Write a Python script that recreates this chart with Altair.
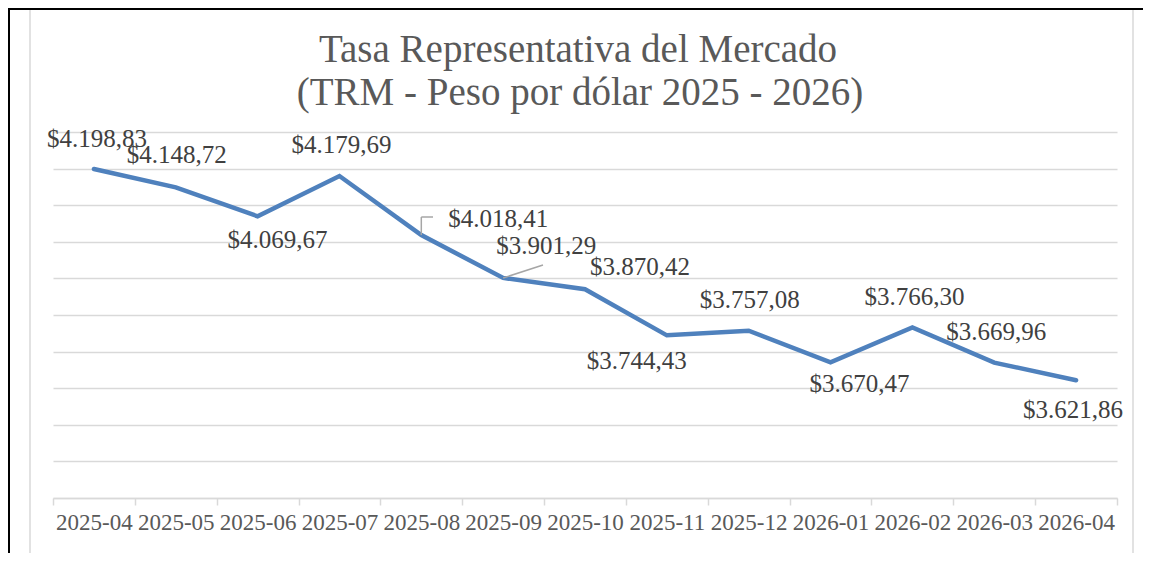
import altair as alt
import pandas as pd

months = ["2025-04", "2025-05", "2025-06", "2025-07", "2025-08", "2025-09", "2025-10",
          "2025-11", "2025-12", "2026-01", "2026-02", "2026-03", "2026-04"]
values = [4198.83, 4148.72, 4069.67, 4179.69, 4018.41, 3901.29, 3870.42,
          3744.43, 3757.08, 3670.47, 3766.30, 3669.96, 3621.86]

# label placement offsets (pixels, relative to each point)
label_dx = [3, 1, 20, 2, 77, 43, 55, -30, 1, 29, 2, 2, -3]
label_dy = [-30, -32, 24, -31, -16, -32, -22, 26, -31, 22, -30, -31, 30]

title_lines = ["Tasa Representativa del Mercado", "(TRM - Peso por dólar 2025 - 2026)"]


def fmt(v):
    s = f"{v:,.2f}"
    s = s.replace(",", "X").replace(".", ",").replace("X", ".")
    return "$" + s


df = pd.DataFrame({"month": months, "value": values, "label": [fmt(v) for v in values]})

FONT = "Liberation Serif"
W, H = 1064, 366

x_enc = alt.X("month:N", sort=months,
              scale=alt.Scale(paddingInner=0, paddingOuter=0),
              axis=alt.Axis(title=None, labelAngle=0, labelFont=FONT, labelFontSize=23,
                            labelColor="#595959", domainColor="#d9d9d9", domainWidth=1.5,
                            tickColor="#d9d9d9", tickWidth=1.5, tickSize=7, tickBand="extent",
                            labelPadding=6, grid=False))
y_enc = alt.Y("value:Q",
              scale=alt.Scale(domain=[3300, 4300], nice=False, zero=False),
              axis=alt.Axis(title=None, values=list(range(3300, 4301, 100)), labels=False,
                            ticks=False, domain=False, grid=True, gridColor="#d9d9d9",
                            gridWidth=1.5))

base = alt.Chart(df)

line = base.mark_line(color="#4F81BD", strokeWidth=4.5, strokeCap="round").encode(x=x_enc, y=y_enc)

label_layers = []
for m, dx, dy in zip(months, label_dx, label_dy):
    label_layers.append(
        base.transform_filter(alt.datum.month == m)
        .mark_text(font=FONT, fontSize=25, color="#404040", align="center",
                   baseline="middle", dx=dx, dy=dy)
        .encode(x=x_enc, y=y_enc, text="label:N")
    )

# leader lines for two labels
lead1a = base.transform_filter(alt.datum.month == "2025-08").mark_rule(
    color="#a6a6a6", strokeWidth=1.5).encode(x=x_enc, y=y_enc, y2=alt.value(85))
lead1b = base.transform_filter(alt.datum.month == "2025-08").mark_rule(
    color="#a6a6a6", strokeWidth=1.5).encode(x=x_enc, x2=alt.value(380), y=alt.value(85))
lead2 = base.transform_filter(alt.datum.month == "2025-09").mark_rule(
    color="#a6a6a6", strokeWidth=1.5).encode(x=x_enc, y=y_enc, x2=alt.value(490), y2=alt.value(133))

one = alt.Chart(pd.DataFrame({"t1": [title_lines[0]], "t2": [title_lines[1]]}))
title1 = one.mark_text(font=FONT, fontSize=39, color="#595959", align="center",
                       baseline="alphabetic").encode(x=alt.value(525), y=alt.value(-70), text="t1:N")
title2 = one.mark_text(font=FONT, fontSize=39, color="#595959", align="center",
                       baseline="alphabetic").encode(x=alt.value(527), y=alt.value(-27), text="t2:N")

# chart-area frame
frame_l = one.mark_rule(color="#d9d9d9", strokeWidth=1.5).encode(
    x=alt.value(-23), y=alt.value(-124), y2=alt.value(421))
frame_r = one.mark_rule(color="#d9d9d9", strokeWidth=1.5).encode(
    x=alt.value(1080), y=alt.value(-124), y2=alt.value(421))
black_top = one.mark_rule(color="#000000", strokeWidth=2).encode(
    x=alt.value(-45), x2=alt.value(1090), y=alt.value(-123))
black_left = one.mark_rule(color="#000000", strokeWidth=2).encode(
    x=alt.value(-44), y=alt.value(-124), y2=alt.value(421))

chart = alt.layer(
    line, lead1a, lead1b, lead2, *label_layers, title1, title2,
    frame_l, frame_r, black_top, black_left
).properties(
    width=W, height=H,
    padding={"left": 45, "top": 124, "right": 26, "bottom": 55},
    autosize=alt.AutoSizeParams(type="none"),
    background="white",
).configure_view(stroke=None)

chart.save("out.html", embed_options={"renderer": "svg", "actions": False})
